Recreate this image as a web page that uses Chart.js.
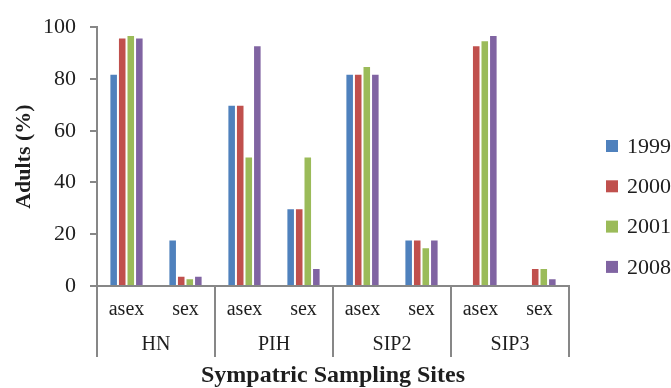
<!DOCTYPE html>
<html>
<head>
<meta charset="utf-8">
<script src="https://cdn.jsdelivr.net/npm/chart.js@4/dist/chart.umd.min.js"></script>
<style>
  html, body { margin: 0; padding: 0; background: #ffffff; overflow: hidden; }
  #wrap { width: 671px; height: 388px; position: relative; }
</style>
</head>
<body>
<div id="wrap"><canvas id="chart"></canvas></div>
<script>
// Reproductive mode per sampling site, share of adults (%)
const categories = ['asex', 'sex', 'asex', 'sex', 'asex', 'sex', 'asex', 'sex'];
const sites = ['HN', 'PIH', 'SIP2', 'SIP3'];
const years = ['1999', '2000', '2001', '2008'];

const values1999 = [82, 18, 70, 30, 82, 18, null, null];
const values2000 = [96, 4, 70, 30, 82, 18, 93, 7];
const values2001 = [97, 3, 50, 50, 85, 15, 95, 7];
const values2008 = [96, 4, 93, 7, 82, 18, 97, 3];

const yTicks = [0, 20, 40, 60, 80, 100];

const colors = ['#4F81BD', '#C0504D', '#9BBB59', '#8064A2'];
const serif = "'Liberation Serif', 'Times New Roman', serif";
const axisGray = '#878787';
const textColor = '#1e1e1e';

const series = [values1999, values2000, values2001, values2008];

// Legend drawn as a column of square swatches to the right of the plot
const sideLegend = {
  id: 'sideLegend',
  afterDraw(chart) {
    const ctx = chart.ctx;
    ctx.save();
    ctx.font = '22px ' + serif;
    ctx.textBaseline = 'middle';
    ctx.textAlign = 'left';
    chart.data.datasets.forEach((ds, i) => {
      const cy = 146 + i * 40.3;
      ctx.fillStyle = ds.backgroundColor;
      ctx.fillRect(606, cy - 6, 12, 12);
      ctx.fillStyle = textColor;
      ctx.fillText(ds.label, 627, cy + 1);
    });
    ctx.restore();
  }
};

new Chart(document.getElementById('chart'), {
  type: 'bar',
  data: {
    labels: categories,
    datasets: years.map((y, i) => ({
      label: y,
      data: series[i],
      backgroundColor: colors[i],
      borderColor: 'rgba(255,255,255,0.3)',
      borderWidth: 1,
      categoryPercentage: 0.58,
      barPercentage: 1.0,
      xAxisID: 'x'
    }))
  },
  options: {
    responsive: true,
    maintainAspectRatio: false,
    animation: false,
    devicePixelRatio: 1,
    layout: { padding: { top: 26, right: 102, bottom: 0, left: 0 } },
    plugins: {
      legend: { display: false },
      tooltip: { enabled: false },
      title: { display: false }
    },
    scales: {
      y: {
        min: 0,
        max: 100,
        afterBuildTicks(scale) { scale.ticks = yTicks.map(v => ({ value: v })); },
        afterFit(scale) { scale.width = 97; },
        ticks: {
          font: { family: serif, size: 22 },
          color: textColor,
          padding: 14
        },
        grid: {
          drawOnChartArea: false,
          drawTicks: true,
          tickLength: 7,
          color: axisGray,
          lineWidth: 2
        },
        border: { display: true, color: axisGray, width: 2 },
        title: {
          display: true,
          text: 'Adults (%)',
          font: { family: serif, size: 22, weight: 'bold', lineHeight: 1 },
          color: textColor,
          padding: { top: 13, bottom: 0 }
        }
      },
      x: {
        type: 'category',
        position: 'bottom',
        weight: 0,
        offset: true,
        afterFit(scale) { scale.height = 36; },
        ticks: {
          font: { family: serif, size: 20 },
          color: textColor,
          padding: -24,
          maxRotation: 0,
          autoSkip: false
        },
        grid: {
          offset: true,
          drawOnChartArea: false,
          drawTicks: true,
          tickLength: 36,
          lineWidth: 2,
          color: (c) => (c.index === undefined || c.index % 2 === 0) ? axisGray : 'rgba(0,0,0,0)'
        },
        border: { display: true, color: axisGray, width: 2 }
      },
      x2: {
        type: 'category',
        position: 'bottom',
        weight: 1,
        labels: sites,
        offset: true,
        afterFit(scale) { scale.height = 66; },
        ticks: {
          font: { family: serif, size: 20 },
          color: textColor,
          padding: -24,
          maxRotation: 0,
          autoSkip: false
        },
        grid: {
          offset: true,
          drawOnChartArea: false,
          drawTicks: true,
          tickLength: 35,
          lineWidth: 2,
          color: axisGray
        },
        border: { display: false },
        title: {
          display: true,
          text: 'Sympatric Sampling Sites',
          font: { family: serif, size: 24, weight: 'bold', lineHeight: 1 },
          color: textColor,
          padding: { top: 0, bottom: 0 }
        }
      }
    }
  },
  plugins: [sideLegend]
});
</script>
</body>
</html>
